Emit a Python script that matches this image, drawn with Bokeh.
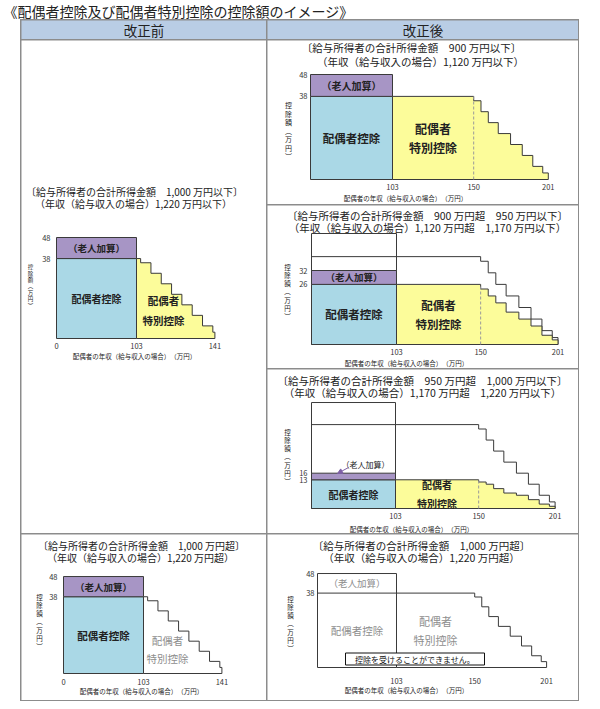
import numpy as np
from bokeh.plotting import figure
from bokeh.layouts import column, row
from bokeh.models import Range1d, FixedTicker, Arrow, NormalHead, Spacer
from bokeh.core.properties import value
from bokeh.embed import file_html
from bokeh.resources import INLINE

FONT = "Noto Sans CJK JP"
BLUE = "#aad8e6"
PURPLE = "#a795c5"
YELLOW = "#fcfc9a"
HEADER = "#b9cde5"
GRID = "#8c8c8c"
INK = "#222222"
EDGE = "#3a3a3a"
GRAY_TXT = "#8e8e8e"
ARROW = "#7d5fa5"

# ---------------- data ----------------
title_text = "《配偶者控除及び配偶者特別控除の控除額のイメージ》"
headers = ["改正前", "改正後"]
x_title = "配偶者の年収（給与収入の場合）　（万円）"
y_title = "控除額（万円）"
label_elderly = "（老人加算）"
label_spouse = "配偶者控除"
label_special = "配偶者\n特別控除"
label_none = "控除を受けることができません。"

sub_old_le1000 = ["〔給与所得者の合計所得金額　1,000 万円以下〕", "（年収（給与収入の場合）1,220 万円以下）"]
sub_gt1000 = ["〔給与所得者の合計所得金額　1,000 万円超〕", "（年収（給与収入の場合）1,220 万円超）"]
sub_le900 = ["〔給与所得者の合計所得金額　900 万円以下〕", "（年収（給与収入の場合）1,120 万円以下）"]
sub_900_950 = ["〔給与所得者の合計所得金額　900 万円超　950 万円以下〕", "（年収（給与収入の場合）1,120 万円超　1,170 万円以下）"]
sub_950_1000 = ["〔給与所得者の合計所得金額　950 万円超　1,000 万円以下〕", "（年収（給与収入の場合）1,170 万円超　1,220 万円以下）"]

# spouse income thresholds (万円) and deduction amounts (万円)
spouse_limit = 103
old_edges = [103, 105, 110, 115, 120, 125, 130, 135, 140, 141]
old_special = [38, 36, 31, 26, 21, 16, 11, 6, 3]
new_edges = [103, 150, 155, 160, 166.8, 175.2, 183.2, 190.4, 197.2, 201]
new_special_900 = [38, 36, 31, 26, 21, 16, 11, 6, 3]
new_special_950 = [26, 24, 21, 18, 14, 11, 8, 4, 2]
new_special_1000 = [13, 12, 11, 9, 7, 6, 4, 2, 1]
spouse_ded = [38, 26, 13]
elderly_ded = [48, 32, 16]
old_x_ticks = [0, 103, 141]
new_x_ticks = [103, 150, 201]

# schematic (piecewise) x scale break points
old_breaks, old_pos = [0, 103, 141], [0, 100, 198]
new_breaks, new_pos = [0, 103, 150, 201], [0, 100, 199, 290]

SUB_SIZE = 10.5


def step_poly(edges, vals):
    xs, ys = [edges[0]], [0]
    for i, v in enumerate(vals):
        xs += [edges[i], edges[i + 1]]
        ys += [v, v]
    xs.append(edges[-1])
    ys.append(0)
    return xs, ys


class Panel:
    def __init__(self, cell, origin, ux, uy, breaks, pos):
        cx, cy, w, h = cell
        ox, oy = origin
        self.ox, self.oy, self.ux, self.uy = ox, oy, ux, uy
        self.breaks, self.pos = breaks, pos
        lx, ly = ox - cx, oy - cy
        p = figure(width=w, height=h,
                   x_range=Range1d(-lx / ux, (w - lx) / ux),
                   y_range=Range1d(-(h - ly) / uy, ly / uy),
                   output_backend="svg", toolbar_location=None,
                   min_border=0, outline_line_color=None,
                   background_fill_color="white", border_fill_color="white")
        p.grid.visible = False
        self.p = p

    def sx(self, v):
        return np.interp(np.asarray(v, dtype=float), self.breaks, self.pos)

    def at(self, px, py):
        return (px - self.ox) / self.ux, (self.oy - py) / self.uy

    def rect(self, x0, x1, y0, y1, fill, line=EDGE):
        self.p.quad(left=[float(self.sx(x0))], right=[float(self.sx(x1))],
                    bottom=[y0], top=[y1], fill_color=fill, line_color=line, line_width=1)

    def steps(self, edges, vals, fill, line=EDGE):
        xs, ys = step_poly(edges, vals)
        self.p.patch(list(self.sx(xs)), ys, fill_color=fill, line_color=line, line_width=1)

    def hline(self, x0, x1, y, color=EDGE, dash="solid"):
        self.p.line(list(self.sx([x0, x1])), [y, y], line_color=color, line_width=1, line_dash=dash)

    def vline(self, x, y0, y1, color=EDGE, dash="solid"):
        self.p.line(list(self.sx([x, x])), [y0, y1], line_color=color, line_width=1, line_dash=dash)

    def text(self, x, y, s, size, color=INK, bold=False, align="center", baseline="middle", lh=1.2):
        self.p.text(x=[x], y=[y], text=[s], text_font=value(FONT), text_font_size=f"{size}px",
                    text_color=color, text_align=align, text_baseline=baseline,
                    text_font_style="bold" if bold else "normal", text_line_height=lh)

    def text_px(self, px, py, s, size, **kw):
        x, y = self.at(px, py)
        self.text(x, y, s, size, **kw)

    def center_text(self, x0, x1, y, s, size, **kw):
        self.text(float((self.sx(x0) + self.sx(x1)) / 2), y, s, size, **kw)

    def subtitle(self, lines, pos1, pos2, size=SUB_SIZE):
        self.text_px(pos1[0], pos1[1], lines[0], size)
        self.text_px(pos2[0], pos2[1], lines[1], size)

    def axes(self, xticks, yticks, xstand, ystand, ytitle_pos, xtitle_pos, ysize=6.5, ylh=0.82):
        p = self.p
        xt = [int(round(float(self.sx(t)))) for t in xticks]
        p.xaxis.fixed_location = 0
        p.yaxis.fixed_location = 0
        p.xaxis.ticker = FixedTicker(ticks=xt)
        p.xaxis.major_label_overrides = {k: str(t) for k, t in zip(xt, xticks)}
        p.yaxis.ticker = FixedTicker(ticks=list(yticks))
        for ax, st in ((p.xaxis, xstand), (p.yaxis, ystand)):
            ax.axis_line_color = None
            ax.major_tick_line_color = None
            ax.minor_tick_line_color = None
            ax.major_tick_out = 0
            ax.major_tick_in = 0
            ax.minor_tick_out = 0
            ax.minor_tick_in = 0
            ax.major_label_text_font = FONT
            ax.major_label_text_font_size = "7.5px"
            ax.major_label_text_color = "#333333"
            ax.major_label_standoff = st
        vert = "\n".join(y_title.replace("（", "︵").replace("）", "︶"))
        self.text_px(ytitle_pos[0], ytitle_pos[1], vert, ysize, lh=ylh)
        self.text_px(xtitle_pos[0], xtitle_pos[1], x_title, 6.5)


# ---------------- 改正前: 1,000万円以下 ----------------
L1 = Panel((21, 40, 245, 493), (56, 338), 0.80, 2.104, old_breaks, old_pos)
L1.subtitle(sub_old_le1000, (134, 191), (133, 203), size=10)
L1.rect(0, spouse_limit, 0, spouse_ded[0], BLUE)
L1.rect(0, spouse_limit, spouse_ded[0], elderly_ded[0], PURPLE)
L1.steps(old_edges, old_special, YELLOW)
L1.center_text(0, spouse_limit, (spouse_ded[0] + elderly_ded[0]) / 2, label_elderly, 9.5, bold=True)
L1.center_text(0, spouse_limit, spouse_ded[0] / 2, label_spouse, 10, bold=True)
L1.text_px(163, 310, label_special, 10.5, bold=True, lh=1.3)
L1.axes(old_x_ticks, [spouse_ded[0], elderly_ded[0]], 4, 6, (30, 286), (134, 355), ysize=5.5, ylh=0.8)

# ---------------- 改正前: 1,000万円超 ----------------
L2 = Panel((21, 534, 245, 166), (63, 673), 0.80, 2.02, old_breaks, old_pos)
L2.subtitle(sub_gt1000, (141, 545), (140, 557), size=10)
L2.rect(0, spouse_limit, 0, spouse_ded[0], BLUE)
L2.rect(0, spouse_limit, spouse_ded[0], elderly_ded[0], PURPLE)
L2.steps(old_edges, old_special, "white")
L2.center_text(0, spouse_limit, (spouse_ded[0] + elderly_ded[0]) / 2, label_elderly, 9.5, bold=True)
L2.center_text(0, spouse_limit, spouse_ded[0] / 2, label_spouse, 10.5, bold=True)
L2.text_px(167, 649, label_special, 10.5, color=GRAY_TXT, lh=1.25)
L2.axes(old_x_ticks, [spouse_ded[0], elderly_ded[0]], 5, 6, (39, 621), (141, 690))

# ---------------- 改正後: 900万円以下 ----------------
r1 = Panel((267, 40, 311, 164), (310, 179), 0.82, 2.1875, new_breaks, new_pos)
r1.subtitle(sub_le900, (411, 47), (420, 61))
r1.rect(0, spouse_limit, 0, spouse_ded[0], BLUE)
r1.rect(0, spouse_limit, spouse_ded[0], elderly_ded[0], PURPLE)
r1.steps(new_edges, new_special_900, YELLOW)
r1.vline(new_edges[1], 0, new_special_900[0], color="#9a9a9a", dash="3 2")
r1.center_text(0, spouse_limit, (spouse_ded[0] + elderly_ded[0]) / 2, label_elderly, 10, bold=True)
r1.center_text(0, spouse_limit, spouse_ded[0] / 2, label_spouse, 11.5, bold=True)
r1.center_text(spouse_limit, new_edges[1], new_special_900[0] / 2, label_special, 12, bold=True, lh=1.15)
r1.axes(new_x_ticks, [spouse_ded[0], elderly_ded[0]], 4, 3, (288, 130), (405, 197), ysize=7, ylh=0.85)


# ---------------- 改正後: 900万円超 950万円以下 ----------------
def full_outline(pn):
    pn.rect(0, spouse_limit, 0, elderly_ded[0], "white")
    pn.steps(new_edges, new_special_900, "white")
    pn.hline(0, spouse_limit, spouse_ded[0])


r2 = Panel((267, 205, 311, 163), (311, 344), 0.85, 2.3125, new_breaks, new_pos)
r2.subtitle(sub_900_950, (427, 215), (427, 227))
full_outline(r2)
r2.rect(0, spouse_limit, 0, spouse_ded[1], BLUE)
r2.rect(0, spouse_limit, spouse_ded[1], elderly_ded[1], PURPLE)
r2.steps(new_edges, new_special_950, YELLOW)
r2.vline(new_edges[1], 0, new_special_950[0], color="#9a9a9a", dash="3 2")
r2.center_text(0, spouse_limit, (spouse_ded[1] + elderly_ded[1]) / 2, label_elderly, 9.5, bold=True)
r2.center_text(0, spouse_limit, spouse_ded[1] / 2, label_spouse, 11.5, bold=True)
r2.center_text(spouse_limit, new_edges[1], new_special_950[0] / 2, label_special, 11.5, bold=True, lh=1.15)
r2.axes(new_x_ticks, [spouse_ded[1], elderly_ded[1]], 4, 4, (287, 291), (406, 362))

# ---------------- 改正後: 950万円超 1,000万円以下 ----------------
r3 = Panel((267, 369, 311, 164), (311, 508), 0.84, 2.208, new_breaks, new_pos)
r3.subtitle(sub_950_1000, (422, 380), (422, 392))
full_outline(r3)
r3.rect(0, spouse_limit, 0, spouse_ded[2], BLUE)
r3.rect(0, spouse_limit, spouse_ded[2], elderly_ded[2], PURPLE)
r3.steps(new_edges, new_special_1000, YELLOW)
r3.vline(new_edges[1], 0, new_special_1000[0], color="#9a9a9a", dash="3 2")
r3.text_px(365, 464, label_elderly, 8)
ax0, ay0 = r3.at(348, 467)
ax1, ay1 = r3.at(337, 473)
r3.p.add_layout(Arrow(end=NormalHead(size=5, fill_color=ARROW, line_color=ARROW),
                      x_start=ax0, y_start=ay0, x_end=ax1, y_end=ay1,
                      line_color=ARROW, line_width=1))
r3.center_text(0, spouse_limit, spouse_ded[2] / 2, label_spouse, 10, bold=True)
r3.center_text(spouse_limit, new_edges[1], new_special_1000[0] / 2, label_special, 10, bold=True, lh=1.25)
r3.axes(new_x_ticks, [spouse_ded[2], elderly_ded[2]], 4, 4, (287, 456), (411, 528))

# ---------------- 改正後: 1,000万円超 ----------------
r4 = Panel((267, 534, 311, 166), (317, 667), 0.79, 1.958, new_breaks, new_pos)
r4.subtitle(sub_gt1000, (421, 545), (421, 557))
full_outline(r4)
r4.center_text(0, spouse_limit, (spouse_ded[0] + elderly_ded[0]) / 2, label_elderly, 9.5, color=GRAY_TXT)
r4.center_text(0, spouse_limit, spouse_ded[0] / 2, label_spouse, 10.5, color=GRAY_TXT)
r4.center_text(spouse_limit, new_edges[1], spouse_ded[0] / 2, label_special, 11, color=GRAY_TXT, lh=1.2)
bx0, by0 = r4.at(345, 664.5)
bx1, by1 = r4.at(484, 652.5)
r4.p.quad(left=[bx0], right=[bx1], bottom=[by0], top=[by1], fill_color="white", line_color="#111111", line_width=1)
r4.text_px(414.5, 658.5, label_none, 8, color="#111111")
r4.axes(new_x_ticks, [spouse_ded[0], elderly_ded[0]], 10, 3, (290, 623), (406, 689))


# ---------------- title & headers ----------------
def plain(w, h, fill="white"):
    f = figure(width=w, height=h, x_range=Range1d(0, w), y_range=Range1d(h, 0),
               output_backend="svg", toolbar_location=None, min_border=0,
               x_axis_location=None, y_axis_location=None, outline_line_color=None,
               background_fill_color=fill, border_fill_color=fill)
    f.grid.visible = False
    return f


tf = plain(590, 19)
tf.text(x=[3], y=[10], text=[title_text], text_font=value(FONT), text_font_size="14px",
        text_color=INK, text_align="left", text_baseline="middle")

hl = plain(245, 19, HEADER)
hl.text(x=[122.5], y=[9.5], text=[headers[0]], text_font=value(FONT), text_font_size="13.5px",
        text_color=INK, text_align="center", text_baseline="middle")
hr = plain(311, 19, HEADER)
hr.text(x=[155.5], y=[9.5], text=[headers[1]], text_font=value(FONT), text_font_size="13.5px",
        text_color=INK, text_align="center", text_baseline="middle")

header_row = row(hl, hr, spacing=1)
body_row = row(column(L1.p, L2.p, spacing=1),
               column(r1.p, r2.p, r3.p, r4.p, spacing=1), spacing=1)
table = column(header_row, body_row, spacing=1,
               styles={"background-color": GRID, "padding": "1px"})
root = column(tf, row(Spacer(width=20, height=10), table))

open("out.html", "w").write(file_html(root, INLINE))
